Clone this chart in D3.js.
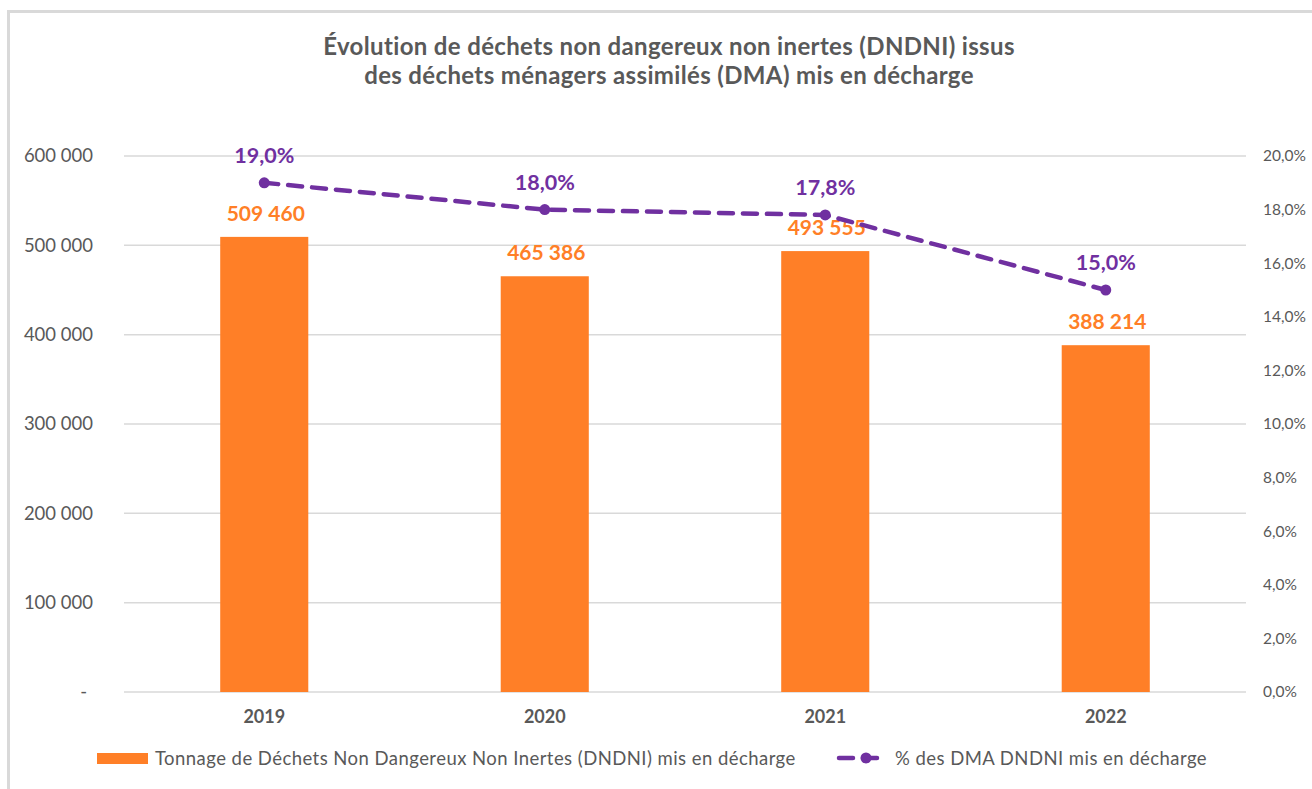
<!DOCTYPE html>
<html><head><meta charset="utf-8">
<script src="https://cdn.jsdelivr.net/npm/d3@7"></script>
<style>body{margin:0;background:#fff}svg{display:block}text{font-family:Lato,"Open Sans",sans-serif}</style>
</head><body><svg id="c" width="1312" height="789"></svg>
<script>
const categories = ["2019","2020","2021","2022"];
const tonnage = [509460, 465386, 493555, 388214];
const pctValues = [19.0, 18.0, 17.8, 15.0];
const leftTicks = [0,100000,200000,300000,400000,500000,600000];
const rightTicks = [0,2,4,6,8,10,12,14,16,18,20];
const titleLines = ["Évolution de déchets non dangereux non inertes (DNDNI) issus","des déchets ménagers assimilés (DMA) mis en décharge"];
const legendLabels = ["Tonnage de Déchets Non Dangereux Non Inertes (DNDNI) mis en décharge","% des DMA DNDNI mis en décharge"];

const svg = d3.select("#c");
const gray = "#595959", orange = "#FF7F27", purple = "#7030A0", grid = "#d9d9d9";
const L = 124, R = 1246, T = 156, B = 692;

// frame
svg.append("path").attr("d","M8.5,789 V11.5 H1312").attr("fill","none").attr("stroke","#d9d9d9").attr("stroke-width",3);

// title
svg.append("text").attr("x",669).attr("y",55).attr("text-anchor","middle")
  .attr("font-size",24).attr("letter-spacing",0.35).attr("font-weight","bold").attr("fill",gray)
  .selectAll("tspan").data(titleLines).join("tspan").attr("x",669).attr("dy",(d,i)=>i?29:0).text(d=>d);

const x = d3.scaleBand().domain(categories).range([L,R]).padding(0);
const y = d3.scaleLinear().domain([0,600000]).range([B,T]);
const y2 = d3.scaleLinear().domain([0,20]).range([B,T]);
const barW = x.bandwidth()*0.314;

// gridlines
svg.append("g").selectAll("line").data(leftTicks).join("line")
  .attr("x1",L).attr("x2",R).attr("y1",d=>y(d)).attr("y2",d=>y(d))
  .attr("stroke",grid).attr("stroke-width",1.5);

// left axis
const fmt = d => d===0 ? "-" : d3.format(",")(d).replace(/,/g," ");
const ya = svg.append("g").attr("transform",`translate(${L},0)`)
  .call(d3.axisLeft(y).tickValues(leftTicks).tickFormat(fmt).tickSize(0).tickPadding(31));
ya.select(".domain").remove();
ya.selectAll("text").attr("font-size",18.5).attr("fill",gray).attr("font-family","Lato")
  .attr("dx",d=>d===0?-6:0);

// right axis
const yb = svg.append("g").attr("transform",`translate(${R},0)`)
  .call(d3.axisRight(y2).tickValues(rightTicks).tickFormat(d=>d3.format(".1f")(d).replace(".",",")+"%").tickSize(0).tickPadding(17));
yb.select(".domain").remove();
yb.selectAll("text").attr("font-size",15.5).attr("fill",gray).attr("font-family","Lato");

// x axis
const xa = svg.append("g").attr("transform",`translate(0,${B})`)
  .call(d3.axisBottom(x).tickSize(0).tickPadding(18));
xa.select(".domain").remove();
xa.selectAll("text").attr("font-size",18).attr("font-weight","bold").attr("fill",gray).attr("font-family","Lato");

// bars
const cx = d => x(d)+x.bandwidth()/2;
svg.append("g").selectAll("rect").data(categories).join("rect")
  .attr("x",d=>cx(d)-barW/2).attr("width",barW)
  .attr("y",(d,i)=>y(tonnage[i])).attr("height",(d,i)=>B-y(tonnage[i]))
  .attr("fill",orange);

svg.append("g").selectAll("text").data(categories).join("text")
  .attr("x",d=>cx(d)+1.5).attr("y",(d,i)=>y(tonnage[i])-16).attr("text-anchor","middle")
  .attr("font-size",21).attr("font-weight","bold").attr("fill",orange)
  .text((d,i)=>fmt(tonnage[i]));

// line
const pts = categories.map((d,i)=>[cx(d),y2(pctValues[i])]);
svg.append("path").attr("d",d3.line()(pts)).attr("fill","none").attr("stroke",purple)
  .attr("stroke-width",4.5).attr("stroke-dasharray","14,10").attr("stroke-linecap","round");
svg.append("g").selectAll("circle").data(pts).join("circle")
  .attr("cx",d=>d[0]).attr("cy",d=>d[1]).attr("r",5.5).attr("fill",purple);
svg.append("g").selectAll("text").data(categories).join("text")
  .attr("x",cx).attr("y",(d,i)=>y2(pctValues[i])-20).attr("text-anchor","middle")
  .attr("font-size",21.5).attr("font-weight","bold").attr("fill",purple)
  .text((d,i)=>d3.format(".1f")(pctValues[i]).replace(".",",")+"%");

// legend
const lg = svg.append("g");
lg.append("rect").attr("x",97).attr("y",753).attr("width",51).attr("height",11).attr("fill",orange);
lg.append("text").attr("x",155).attr("y",765).attr("font-size",18.5).attr("letter-spacing",0.45).attr("fill",gray).text(legendLabels[0]);
lg.append("line").attr("x1",839).attr("x2",884).attr("y1",758).attr("y2",758).attr("stroke",purple)
  .attr("stroke-width",4.5).attr("stroke-dasharray","14,10").attr("stroke-linecap","round");
lg.append("circle").attr("cx",866).attr("cy",758).attr("r",5.5).attr("fill",purple);
lg.append("text").attr("x",895).attr("y",765).attr("font-size",18.5).attr("letter-spacing",0.45).attr("fill",gray).text(legendLabels[1]);
</script></body></html>
